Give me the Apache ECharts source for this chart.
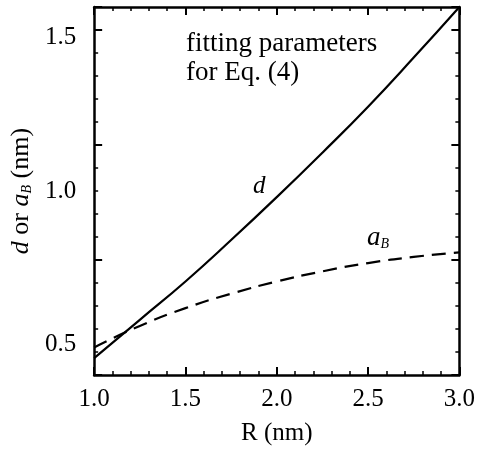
<!DOCTYPE html>
<html>
<head>
<meta charset="utf-8">
<script src="https://cdn.jsdelivr.net/npm/echarts@6/dist/echarts.min.js"></script>
<style>
  html, body { margin: 0; padding: 0; background: #fff; }
  #chart { width: 478px; height: 451px; }
</style>
</head>
<body>
<div id="chart"></div>
<script>
// R (nm) sample points
const radius = [1.0, 1.25, 1.5, 1.75, 2.0, 2.25, 2.5, 2.75, 3.0]
// fitted d (nm), solid line
const dValues = [0.455, 0.58, 0.705, 0.84, 0.98, 1.125, 1.275, 1.435, 1.6]
// fitted a_B (nm), dashed line
const aBValues = [0.49, 0.56, 0.618, 0.665, 0.705, 0.738, 0.765, 0.785, 0.80]

const font = 'Liberation Serif'

let chart = echarts.init(document.getElementById('chart'))

const tickLabel = { color: '#000', fontFamily: font, fontSize: 25 }
const frameLine = { show: true, onZero: false, lineStyle: { color: '#000', width: 2.5 } }
const majorTick = { show: true, inside: true, length: 8, lineStyle: { color: '#000', width: 2 } }
const minorTick = { show: true, splitNumber: 5, length: 4, lineStyle: { color: '#000', width: 1.5 } }

let option = {
  animation: false,
  grid: { left: 93, right: 17, top: 7, bottom: 75 },
  xAxis: [
    {
      type: 'value', min: 1.0, max: 3.0, interval: 0.5,
      axisLine: frameLine, axisTick: majorTick, minorTick: minorTick,
      splitLine: { show: false },
      axisLabel: Object.assign({ margin: 12, formatter: v => v.toFixed(1) }, tickLabel),
      name: 'R (nm)', nameLocation: 'middle', nameGap: 46,
      nameTextStyle: { color: '#000', fontFamily: font, fontSize: 25 }
    },
    {
      type: 'value', position: 'top', min: 1.0, max: 3.0, interval: 0.5,
      axisLine: frameLine, axisTick: majorTick, minorTick: minorTick,
      splitLine: { show: false }, axisLabel: { show: false }
    }
  ],
  yAxis: [
    {
      type: 'value', min: 0.4, max: 1.6, interval: 0.1,
      axisLine: frameLine,
      axisTick: { show: false },
      splitLine: { show: false },
      axisLabel: Object.assign({
        margin: 18,
        formatter: v => {
          const r = Math.round(v * 10)
          return r % 5 === 0 ? (r / 10).toFixed(1) : ''
        }
      }, tickLabel),
      name: '{i|d} or {i|a}{sub|B} (nm)', nameLocation: 'middle', nameGap: 50, nameRotate: 90,
      nameTextStyle: {
        color: '#000', fontFamily: font, fontSize: 26,
        rich: {
          i: { fontFamily: font, fontStyle: 'italic', fontSize: 26, color: '#000' },
          sub: { fontFamily: font, fontStyle: 'italic', fontSize: 14, color: '#000', verticalAlign: 'bottom', padding: [10, 0, 0, 0] }
        }
      }
    },
    {
      type: 'value', min: 0.4, max: 1.6, interval: 0.1, position: 'right',
      axisLine: frameLine, axisTick: { show: false },
      splitLine: { show: false }, axisLabel: { show: false }
    },
    {
      // inner ticks for the left side: majors every 0.5, minors every 0.1
      type: 'value', min: 0.0, max: 1.6, interval: 0.5, position: 'left',
      axisLine: { show: false }, axisTick: majorTick, minorTick: minorTick,
      splitLine: { show: false }, axisLabel: { show: false }
    },
    {
      type: 'value', min: 0.0, max: 1.6, interval: 0.5, position: 'right',
      axisLine: { show: false }, axisTick: majorTick, minorTick: minorTick,
      splitLine: { show: false }, axisLabel: { show: false }
    }
  ],
  series: [
    {
      name: 'd', type: 'line', smooth: true, symbol: 'none',
      data: radius.map((r, i) => [r, dValues[i]]),
      lineStyle: { color: '#000', width: 2.2 }
    },
    {
      name: 'aB', type: 'line', smooth: true, symbol: 'none',
      data: radius.map((r, i) => [r, aBValues[i]]),
      lineStyle: { color: '#000', width: 2.2, type: [14, 8] }
    }
  ],
  graphic: [
    {
      type: 'text', left: 186, top: 29,
      style: { text: 'fitting parameters\nfor Eq. (4)', font: '27px "Liberation Serif"', fill: '#000', lineHeight: 29 }
    },
    {
      type: 'text', left: 253, top: 174,
      style: { text: 'd', font: 'italic 25px "Liberation Serif"', fill: '#000' }
    },
    {
      type: 'text', left: 367, top: 224,
      style: {
        text: '{a|a}{b|B}', fill: '#000',
        rich: {
          a: { fontFamily: font, fontStyle: 'italic', fontSize: 27 },
          b: { fontFamily: font, fontStyle: 'italic', fontSize: 14, verticalAlign: 'bottom', padding: [12, 0, 0, 0] }
        }
      }
    }
  ]
}
chart.setOption(option)
</script>
</body>
</html>
